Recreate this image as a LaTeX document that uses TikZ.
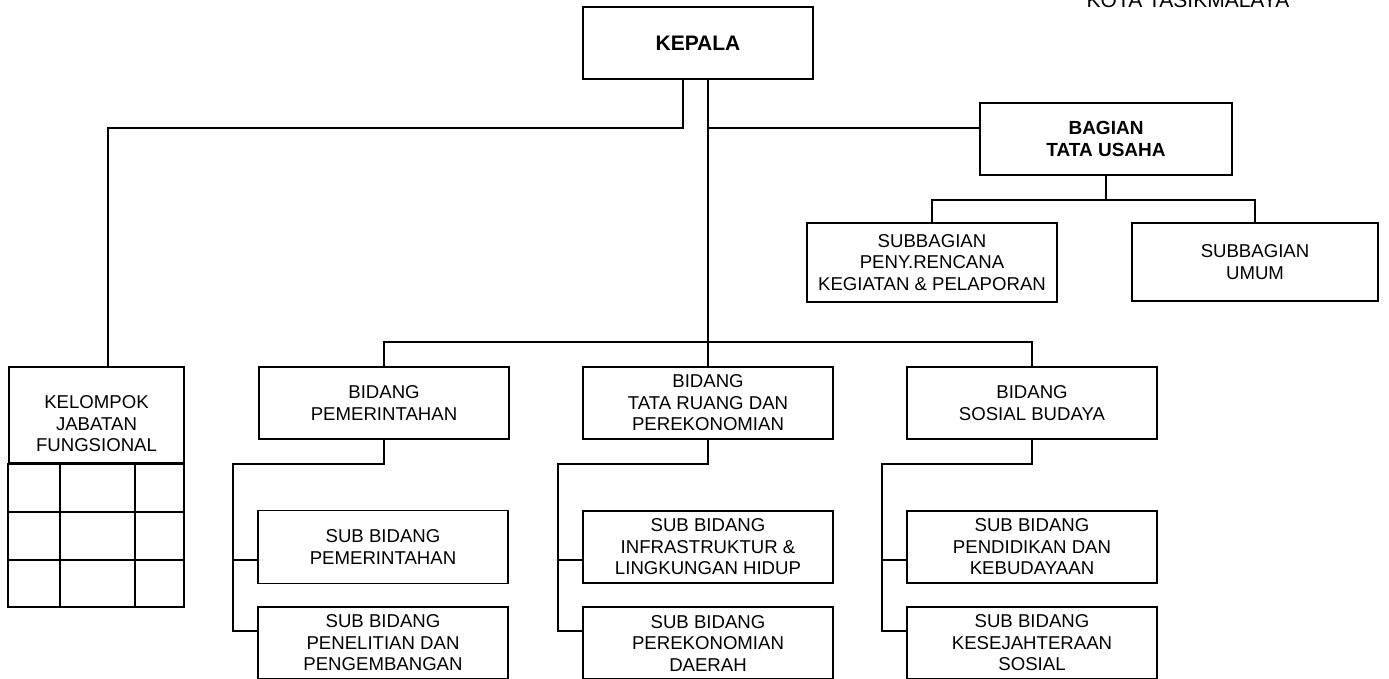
\documentclass[tikz,border=0pt]{standalone}
\usepackage{fontspec}
\setmainfont{Liberation Sans}
\usetikzlibrary{calc}
\newcommand\bodyfs{\fontsize{18.6}{21.5}\selectfont}
\tikzset{
  box/.style={draw=black, line width=1.3pt, minimum width=250pt, minimum height=72pt,
    inner sep=0pt, align=center, font=\bodyfs},
  conn/.style={draw=black, line width=2pt, line cap=rect},
  gridline/.style={draw=black, line width=1.9pt}
}
\begin{document}
\begin{tikzpicture}[x=1pt,y=-1pt]
\useasboundingbox (0,0) rectangle (1389,678);
\clip (0,0) rectangle (1389,678);
\fill[white] (0,0) rectangle (1389,678);

% header text (cut at top, as in the reference)
\node[anchor=base, inner sep=0pt, font=\fontsize{21}{24}\selectfont] (kota) at (1188,7) {KOTA TASIKMALAYA};

% top level
\node[box, minimum width=230pt, font=\fontsize{21}{24}\selectfont\bfseries] (kepala) at (698,43) {KEPALA};
\node[box, minimum width=252pt, font=\fontsize{19}{21.5}\selectfont\bfseries] (bagian) at (1106,139) {BAGIAN\\TATA USAHA};
\node[box, minimum height=79pt] (sb1) at (932,262.5) {SUBBAGIAN\\PENY.RENCANA\\KEGIATAN \& PELAPORAN};
\node[box, minimum width=246pt, minimum height=78pt] (sb2) at (1255,262) {SUBBAGIAN\\UMUM};

% jabatan fungsional
\node[draw=black, line width=1.3pt, minimum width=175pt, minimum height=96pt, inner sep=0pt] (jf) at (96.5,415) {};
\node[align=center, inner sep=0pt, font=\bodyfs] (jft) at (96.5,424) {KELOMPOK\\JABATAN\\FUNGSIONAL};
\draw[gridline] (jf.south west) rectangle (184,607);
\draw[gridline] (9,512) -- (184,512);
\draw[gridline] (9,560) -- (184,560);
\draw[gridline] (60,463) -- (60,607);
\draw[gridline] (135,463) -- (135,607);

% bidang
\node[box] (pem) at (384,403) {BIDANG\\PEMERINTAHAN};
\node[box] (tr) at (708,403) {BIDANG\\TATA RUANG DAN\\PEREKONOMIAN};
\node[box] (sos) at (1032,403) {BIDANG\\SOSIAL BUDAYA};

% sub bidang
\node[box, minimum height=73pt] (ps1) at (383,547) {SUB BIDANG\\PEMERINTAHAN};
\node[box] (ps2) at (383,643) {SUB BIDANG\\PENELITIAN DAN\\PENGEMBANGAN};
\node[box] (ts1) at (708,547) {SUB BIDANG\\INFRASTRUKTUR \&\\LINGKUNGAN HIDUP};
\node[box] (ts2) at (708,643) {SUB BIDANG\\PEREKONOMIAN\\DAERAH};
\node[box] (ss1) at (1032,547) {SUB BIDANG\\PENDIDIKAN DAN\\KEBUDAYAAN};
\node[box] (ss2) at (1032,643) {SUB BIDANG\\KESEJAHTERAAN\\SOSIAL};

% connectors
\draw[conn] ([xshift=-15pt]kepala.south) -- ++(0,48) -| ([xshift=11.5pt]jf.north);
\draw[conn] ([xshift=10pt]kepala.south) -- (tr.north);
\path ([xshift=10pt]kepala.south) ++(0,48) coordinate (j1);
\draw[conn] (j1) -- (j1 -| bagian.west);
\draw[conn] (pem.north) -- ++(0,-24) -| (sos.north);

\path (bagian.south) ++(0,24) coordinate (j2);
\draw[conn] (bagian.south) -- (j2);
\draw[conn] (sb1.north) |- (j2) -| (sb2.north);

\draw[conn] (pem.south) -- ++(0,24) -| ($(ps2.north west)+(-24,25)$) -- ($(ps2.north west)+(0,25)$);
\draw[conn] ($(ps1.west)+(-24,13)$) -- ($(ps1.west)+(0,13)$);

\draw[conn] (tr.south) -- ++(0,24) -| ($(ts2.north west)+(-24,25)$) -- ($(ts2.north west)+(0,25)$);
\draw[conn] ($(ts1.west)+(-24,13)$) -- ($(ts1.west)+(0,13)$);

\draw[conn] (sos.south) -- ++(0,24) -| ($(ss2.north west)+(-24,25)$) -- ($(ss2.north west)+(0,25)$);
\draw[conn] ($(ss1.west)+(-24,13)$) -- ($(ss1.west)+(0,13)$);
\end{tikzpicture}
\end{document}
